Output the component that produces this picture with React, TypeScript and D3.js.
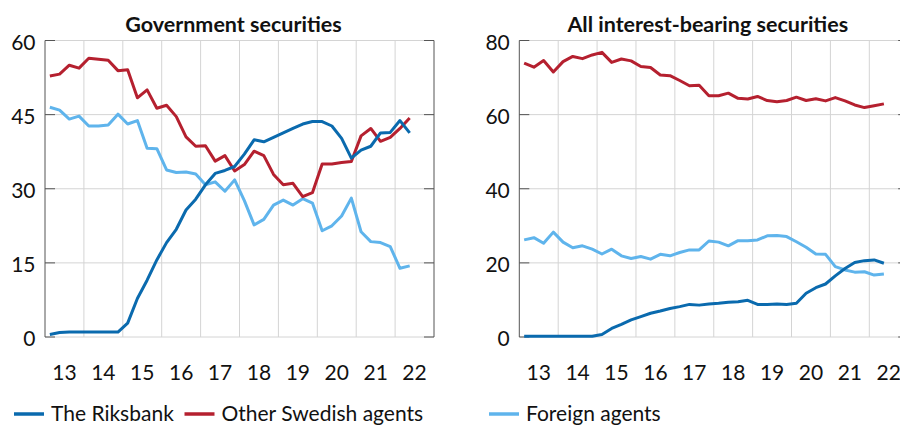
import React, { useRef, useEffect } from 'react';
import * as d3 from 'd3';

// quarterly observations, 2013Q1 - 2022Q2
const quarters = [
  '2013Q1', '2013Q2', '2013Q3', '2013Q4', '2014Q1', '2014Q2', '2014Q3', '2014Q4',
  '2015Q1', '2015Q2', '2015Q3', '2015Q4', '2016Q1', '2016Q2', '2016Q3', '2016Q4',
  '2017Q1', '2017Q2', '2017Q3', '2017Q4', '2018Q1', '2018Q2', '2018Q3', '2018Q4',
  '2019Q1', '2019Q2', '2019Q3', '2019Q4', '2020Q1', '2020Q2', '2020Q3', '2020Q4',
  '2021Q1', '2021Q2', '2021Q3', '2021Q4', '2022Q1', '2022Q2',
];

// Government securities
const govRiksbank = [
  0.5, 0.9, 1.0, 1.0, 1.0, 1.0, 1.0, 1.0, 2.8, 7.8, 11.5, 15.6, 19.1, 21.8, 25.7, 27.9,
  30.8, 33.1, 33.7, 34.5, 37.0, 39.9, 39.5, 40.4, 41.3, 42.2, 43.1, 43.6, 43.6, 42.7, 40.2, 36.2,
  37.8, 38.6, 41.3, 41.4, 43.8, 41.3,
];
const govOther = [
  52.8, 53.2, 55.0, 54.4, 56.4, 56.2, 56.0, 53.9, 54.1, 48.4, 50.0, 46.3, 46.9, 44.6, 40.5, 38.6,
  38.7, 35.6, 36.7, 33.6, 34.9, 37.6, 36.7, 32.9, 30.8, 31.1, 28.4, 29.2, 35.0, 35.0, 35.3, 35.5,
  40.7, 42.2, 39.6, 40.4, 42.2, 44.3,
];
const govForeign = [
  46.5, 45.9, 44.1, 44.7, 42.7, 42.7, 42.9, 45.1, 43.1, 43.8, 38.2, 38.1, 33.8, 33.3, 33.4, 33.0,
  30.8, 31.4, 29.5, 31.8, 27.6, 22.7, 23.8, 26.7, 27.7, 26.7, 28.0, 27.1, 21.5, 22.5, 24.5, 28.1,
  21.3, 19.3, 19.1, 18.3, 13.9, 14.4,
];

// All interest-bearing securities
const allRiksbank = [
  0.2, 0.2, 0.2, 0.2, 0.2, 0.2, 0.2, 0.2, 0.7, 2.3, 3.4, 4.6, 5.5, 6.4, 7.0, 7.7,
  8.2, 8.8, 8.6, 8.9, 9.1, 9.4, 9.5, 9.9, 8.8, 8.8, 8.9, 8.8, 9.1, 11.8, 13.3, 14.3,
  16.5, 18.5, 20.1, 20.6, 20.8, 19.9,
];
const allOther = [
  73.9, 72.8, 74.6, 71.5, 74.3, 75.7, 75.1, 76.1, 76.8, 74.1, 75.0, 74.5, 73.0, 72.7, 70.7, 70.5,
  69.2, 67.8, 67.9, 65.1, 65.1, 65.8, 64.4, 64.2, 64.9, 63.8, 63.5, 63.8, 64.7, 63.8, 64.3, 63.7,
  64.6, 63.7, 62.6, 61.9, 62.4, 62.9,
];
const allForeign = [
  26.2, 26.8, 25.3, 28.3, 25.6, 24.1, 24.6, 23.7, 22.4, 23.7, 21.9, 21.2, 21.7, 21.0, 22.3, 21.9,
  22.8, 23.5, 23.5, 25.9, 25.6, 24.6, 26.0, 26.0, 26.2, 27.3, 27.4, 27.1, 25.7, 24.2, 22.4, 22.3,
  19.0, 18.1, 17.5, 17.6, 16.7, 17.0,
];

const yearLabels = ['13', '14', '15', '16', '17', '18', '19', '20', '21', '22'];
const govTicks = [0, 15, 30, 45, 60];
const allTicks = [0, 20, 40, 60, 80];

const seriesNames = ['The Riksbank', 'Other Swedish agents', 'Foreign agents'];
const colors = { riksbank: '#0a6aae', other: '#b5202f', foreign: '#5fb4ec' };

const FONT = 'Lato, "Open Sans", sans-serif';
const FS = 21;

// mid-quarter position in years
const qTime = (q: string) => +q.slice(0, 4) + (+q.slice(5) - 1) / 4 + 0.125;

const App = () => {
  const svgRef = useRef<SVGSVGElement>(null);

  useEffect(() => {
    const svg = d3.select(svgRef.current);
    svg.selectAll('*').remove();

    const y0 = 337, y1 = 40.5;

    const drawPanel = (opts) => {
      const { left, right, title, ticks, max, series } = opts;
      const x = d3.scaleLinear().domain([2013, 2023]).range([left, right]);
      const y = d3.scaleLinear().domain([0, max]).range([y0, y1]);
      const g = svg.append('g');

      // grid
      g.selectAll('.hgrid').data(ticks).enter().append('line')
        .attr('x1', left).attr('x2', right).attr('y1', d => y(d)).attr('y2', d => y(d))
        .attr('stroke', '#d4d4d4').attr('stroke-width', 1);
      g.selectAll('.vgrid').data(d3.range(2014, 2023)).enter().append('line')
        .attr('x1', d => x(d)).attr('x2', d => x(d)).attr('y1', y0).attr('y2', y1)
        .attr('stroke', '#d4d4d4').attr('stroke-width', 1);

      // frame sides + inward ticks
      [left, right].forEach((ax, k) => {
        g.append('line').attr('x1', ax).attr('x2', ax).attr('y1', y0).attr('y2', y1)
          .attr('stroke', '#555').attr('stroke-width', 1);
        g.selectAll(null).data(ticks).enter().append('line')
          .attr('x1', ax).attr('x2', k === 0 ? ax + 10 : ax - 10)
          .attr('y1', d => y(d)).attr('y2', d => y(d))
          .attr('stroke', '#555').attr('stroke-width', 1);
      });

      // y labels
      g.selectAll('.ylab').data(ticks).enter().append('text')
        .attr('x', left - 9.5).attr('y', d => y(d) + 9.3)
        .attr('text-anchor', 'end').attr('font-size', FS).attr('font-family', FONT)
        .attr('fill', '#111').text(d => d);

      // x labels
      g.selectAll('.xlab').data(yearLabels).enter().append('text')
        .attr('x', d => x(2000 + +d + 0.5)).attr('y', 380)
        .attr('text-anchor', 'middle').attr('font-size', FS).attr('font-family', FONT)
        .attr('fill', '#111').text(d => d);

      // title
      g.append('text').attr('x', (left + right) / 2 - 6).attr('y', 32)
        .attr('text-anchor', 'middle').attr('font-size', 21.5).attr('font-weight', 'bold')
        .attr('font-family', FONT).attr('fill', '#111').text(title);

      const line = d3.line<number>()
        .x((_, i) => x(qTime(quarters[i])))
        .y(d => y(d));

      series.forEach(s => {
        g.append('path').datum(s.values).attr('fill', 'none')
          .attr('stroke', s.color).attr('stroke-width', 3)
          .attr('stroke-linejoin', 'round').attr('d', line);
      });
    };

    drawPanel({
      left: 45, right: 434, title: 'Government securities', ticks: govTicks, max: 60,
      series: [
        { values: govForeign, color: colors.foreign },
        { values: govOther, color: colors.other },
        { values: govRiksbank, color: colors.riksbank },
      ],
    });
    drawPanel({
      left: 519.3, right: 908.2, title: 'All interest-bearing securities', ticks: allTicks, max: 80,
      series: [
        { values: allForeign, color: colors.foreign },
        { values: allOther, color: colors.other },
        { values: allRiksbank, color: colors.riksbank },
      ],
    });

    // legend
    const legendItems = [
      { name: seriesNames[0], color: colors.riksbank, x: 14 },
      { name: seriesNames[1], color: colors.other, x: 184.5 },
      { name: seriesNames[2], color: colors.foreign, x: 489 },
    ];
    const lg = svg.append('g');
    legendItems.forEach(it => {
      lg.append('line').attr('x1', it.x).attr('x2', it.x + 30).attr('y1', 414).attr('y2', 414)
        .attr('stroke', it.color).attr('stroke-width', 3.5);
      lg.append('text').attr('x', it.x + 37).attr('y', 420.5)
        .attr('font-size', FS).attr('font-family', FONT).attr('fill', '#111').text(it.name);
    });
  }, []);

  return (
    <div style={{ position: 'absolute', left: 0, top: 0 }}>
      <svg ref={svgRef} width={900} height={425} style={{ display: 'block', background: '#fff' }} />
    </div>
  );
};

export default App;
